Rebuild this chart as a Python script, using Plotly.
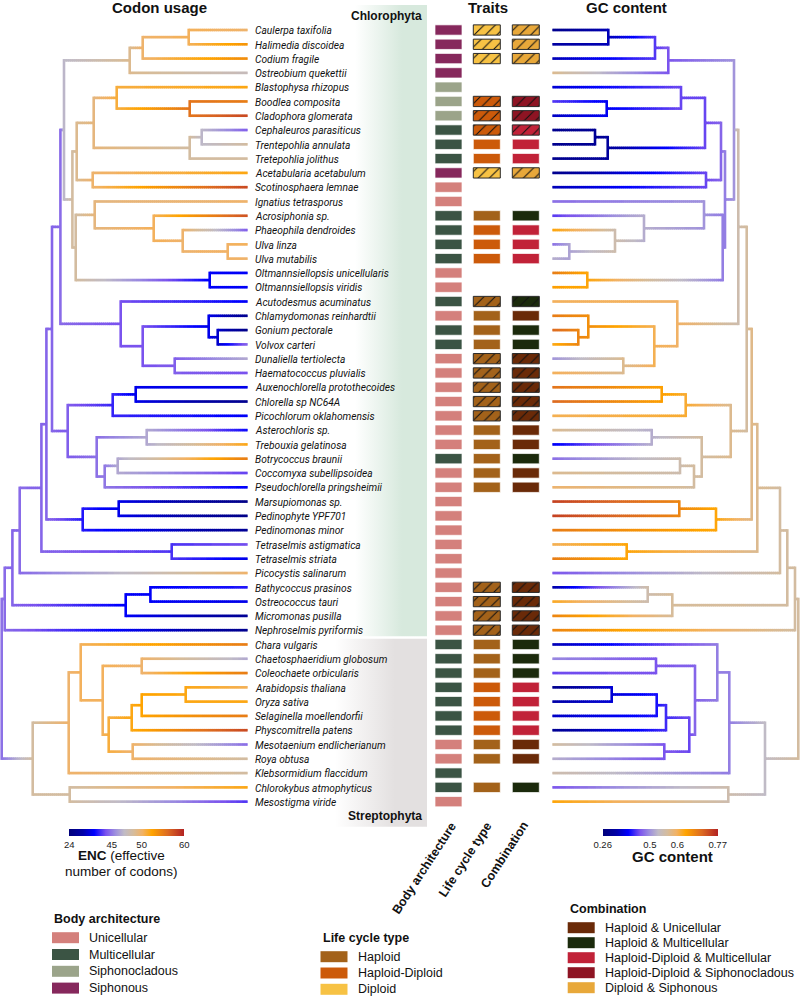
import numpy as np
import plotly.graph_objects as go
from plotly.colors import sample_colorscale

W, H = 800, 997

# ---------------- data ----------------
species = [
    "Caulerpa taxifolia", "Halimedia discoidea", "Codium fragile", "Ostreobium quekettii",
    "Blastophysa rhizopus", "Boodlea composita", "Cladophora glomerata", "Cephaleuros parasiticus",
    "Trentepohlia annulata", "Tretepohlia jolithus", "Acetabularia acetabulum", "Scotinosphaera lemnae",
    "Ignatius tetrasporus", "Acrosiphonia sp.", "Phaeophila dendroides", "Ulva linza", "Ulva mutabilis",
    "Oltmannsiellopsis unicellularis", "Oltmannsiellopsis viridis", "Acutodesmus acuminatus",
    "Chlamydomonas reinhardtii", "Gonium pectorale", "Volvox carteri", "Dunaliella tertiolecta",
    "Haematococcus pluvialis", "Auxenochlorella protothecoides", "Chlorella sp NC64A",
    "Picochlorum oklahomensis", "Asterochloris sp.", "Trebouxia gelatinosa", "Botrycoccus braunii",
    "Coccomyxa subellipsoidea", "Pseudochlorella pringsheimii", "Marsupiomonas sp.", "Pedinophyte YPF701",
    "Pedinomonas minor", "Tetraselmis astigmatica", "Tetraselmis striata", "Picocystis salinarum",
    "Bathycoccus prasinos", "Ostreococcus tauri", "Micromonas pusilla", "Nephroselmis pyriformis",
    "Chara vulgaris", "Chaetosphaeridium globosum", "Coleochaete orbicularis", "Arabidopsis thaliana",
    "Oryza sativa", "Selaginella moellendorfii", "Physcomitrella patens", "Mesotaenium endlicherianum",
    "Roya obtusa", "Klebsormidium flaccidum", "Chlorokybus atmophyticus", "Mesostigma viride",
]

U, M, SC, S = "Unicellular", "Multicellular", "Siphonocladous", "Siphonous"
body = [S, S, S, S, SC, SC, SC, M, M, M, S, U, U, M, M, M, M, U, U, M, U, M, M,
        U, U, U, U, U, U, U, M, U, U,
        U, U, U, U, U, U, U, U, U, U,
        M, M, M, M, M, M, M, U, U, M, M, U]

Hp, HD, Dp = "Haploid", "Haploid-Diploid", "Diploid"
life = [Dp, Dp, Dp, None, None, HD, HD, HD, HD, HD, Dp, None, None, Hp, HD, HD, HD, None, None,
        Hp, Hp, Hp, Hp, Hp, Hp, Hp, Hp, Hp, Hp, Hp, Hp, Hp, Hp,
        None, None, None, None, None, None, Hp, Hp, Hp, Hp,
        Hp, Hp, Hp, HD, HD, HD, HD, Hp, Hp, None, Hp, None]

HU, HM, HDM, HDS, DS = ("Haploid & Unicellular", "Haploid & Multicellular", "Haploid-Diploid & Multicellular",
                        "Haploid-Diploid & Siphonocladous", "Diploid & Siphonous")
combination = [DS, DS, DS, None, None, HDS, HDS, HDM, HDM, HDM, DS, None, None, HM, HDM, HDM, HDM, None, None,
               HM, HU, HM, HM, HU, HU, HU, HU, HU, HU, HU, HM, HU, HU,
               None, None, None, None, None, None, HU, HU, HU, HU,
               HM, HM, HM, HDM, HDM, HDM, HDM, HU, HU, None, HM, None]

# traits marked as inferred (hatched tiles)
inferred = [1, 1, 1, 0, 0, 1, 1, 1, 0, 0, 1, 0, 0, 0, 0, 0, 0, 0, 0, 1, 0, 0, 0,
            1, 1, 1, 1, 1, 0, 0, 0, 0, 0, 0, 0, 0, 0, 0, 0, 1, 1, 1, 1,
            0, 0, 0, 0, 0, 0, 0, 0, 0, 0, 0, 0]

# effective number of codons per species (tips of left tree)
enc_tip = [50, 53.5, 54, 47.5, 52, 55, 58, 43, 48.5, 48.5, 52, 58, 50, 57.5, 43, 50.5, 50,
           36, 36, 36, 27, 26, 44, 46.5, 42, 35, 27, 36, 37, 52, 55, 41, 36,
           26, 26, 28, 42, 35, 50, 38, 35, 28, 27,
           55, 46.5, 55, 50.5, 52, 55, 58, 44, 48.5, 48.5, 52, 40]

# GC content per species (tips of right tree)
gc_tip = [0.29, 0.32, 0.34, 0.57, 0.36, 0.43, 0.35, 0.29, 0.29, 0.29, 0.29, 0.34, 0.47, 0.43, 0.63,
          0.47, 0.52, 0.68, 0.64, 0.60, 0.68, 0.70, 0.62, 0.50, 0.60, 0.69, 0.70, 0.60, 0.57, 0.38,
          0.47, 0.57, 0.59, 0.74, 0.74, 0.68, 0.60, 0.68, 0.45, 0.33, 0.62, 0.67, 0.67,
          0.34, 0.49, 0.44, 0.29, 0.33, 0.35, 0.30, 0.56, 0.52, 0.55, 0.45, 0.63]

LEAF_DEPTH = 246
# codon-usage dendrogram: (node, child, child, depth from root, reconstructed ENC)
enc_tree = [
    ("A", 0, 1, 187, 50.5), ("B", "A", 2, 141, 50), ("C", "B", 3, 128, 49),
    ("D", 5, 6, 188, 55.5), ("E", 4, "D", 115, 51), ("F", 7, 8, 200, 47), ("G", "F", 9, 188, 48.5),
    ("H", "E", "G", 92, 49.5), ("I", 10, 11, 91, 50), ("J", "H", "I", 75, 49),
    ("K", 15, 16, 226, 50.3), ("L", 14, "K", 181, 50), ("M", 13, "L", 152, 50.5), ("N", 12, "M", 93, 49.5),
    ("P", 17, 18, 208, 36), ("Q", "N", "P", 74, 48.5), ("O", "J", "Q", 70.7, 48.5), ("R", "C", "O", 62.3, 47),
    ("T1", 21, 22, 216, 33), ("T2", 20, "T1", 207, 35), ("T3", 23, 24, 173, 43), ("T4", "T2", "T3", 141, 42),
    ("T5", 19, "T4", 119, 42), ("Uu", "R", "T5", 58.7, 44),
    ("V1", 25, 26, 134, 35), ("V2", "V1", 27, 111, 39), ("W1", 28, 29, 145, 46.5), ("W2", 30, 31, 116, 46.5),
    ("W3", "W2", 32, 103, 45), ("W4", "W1", "W3", 95, 44.5), ("W5", "V2", "W4", 66, 43), ("X", "Uu", "W5", 50.3, 43.5),
    ("Y1", 33, 34, 117, 35), ("Y2", "Y1", 35, 81, 38), ("Z", "X", "Y2", 44.7, 43.5),
    ("AA", 36, 37, 170, 40), ("AB", "Z", "AA", 39.7, 43.5), ("AC", "AB", 38, 18, 44),
    ("AD", 39, 40, 148.7, 36), ("AE", "AD", 41, 124, 36), ("AF", "AC", "AE", 10.7, 43.5), ("AG", "AF", 42, 3, 44),
    ("S1", 44, 45, 140, 50), ("S2", 46, 47, 184, 52), ("S3", "S2", 48, 140, 52.5), ("S4", "S3", 49, 130, 52),
    ("S5", 50, 51, 131, 50), ("S6", "S4", "S5", 107, 51), ("S7", "S1", "S6", 101, 50.5), ("S8", 43, "S7", 79, 50.5),
    ("S9", "S8", 52, 67, 50), ("S10", 53, 54, 68, 48.5), ("S11", "S9", "S10", 31, 48.5),
    ("ROOT", "AG", "S11", 0, 44.5),
]

# GC-content dendrogram: (node, child, child, depth from root, reconstructed GC)
gc_tree = [
    ("a1", 0, 1, 190, 0.34), ("a2", "a1", 2, 143.3, 0.43), ("a3", "a2", 3, 130, 0.45),
    ("b1", 5, 6, 191.6, 0.38), ("b2", 4, "b1", 117.3, 0.44), ("c1", 7, 8, 203.3, 0.30), ("c2", "c1", 9, 190.6, 0.31),
    ("bc", "b2", "c2", 93.3, 0.44), ("d1", 10, 11, 92.3, 0.44), ("bcd", "bc", "d1", 77.3, 0.46),
    ("e1", 15, 16, 229, 0.51), ("e2", 14, "e1", 183.3, 0.55), ("e3", 13, "e2", 154.3, 0.52), ("e4", 12, "e3", 94.3, 0.50),
    ("f1", 17, 18, 211, 0.63), ("ef", "e4", "f1", 75.6, 0.48), ("bcdef", "bcd", "ef", 73.3, 0.48),
    ("atop", "a3", "bcdef", 64.3, 0.50),
    ("g1", 21, 22, 220, 0.67), ("g2", 20, "g1", 210, 0.66), ("g3", 23, 24, 175, 0.57), ("g4", "g2", "g3", 144, 0.60),
    ("g5", 19, "g4", 121, 0.595), ("atop2", "atop", "g5", 60, 0.55),
    ("h1", 25, 26, 136.6, 0.64), ("h2", "h1", 27, 112.6, 0.615), ("h3", 28, 29, 146.6, 0.52), ("h4", 30, 31, 118.3, 0.55),
    ("h5", "h4", 32, 104.3, 0.56), ("h6", "h3", "h5", 96.6, 0.56), ("h7", "h2", "h6", 67.6, 0.57),
    ("n1", "atop2", "h7", 51.6, 0.56), ("i1", 33, 34, 119, 0.67), ("i2", "i1", 35, 82.3, 0.63),
    ("n2", "n1", "i2", 46.6, 0.575), ("j1", 36, 37, 171.6, 0.63), ("n3", "n2", "j1", 41, 0.57),
    ("n4", "n3", 38, 18.3, 0.56), ("k1", 39, 40, 150.6, 0.55), ("k2", "k1", 41, 126, 0.565),
    ("n5", "n4", "k2", 11, 0.56), ("n6", "n5", 42, 3.3, 0.56),
    ("m1", 44, 45, 142.3, 0.45), ("m2", 46, 47, 186.6, 0.36), ("m3", "m2", 48, 141.6, 0.40), ("m4", "m3", 49, 132.3, 0.42),
    ("m5", 50, 51, 134, 0.45), ("m6", "m4", "m5", 109, 0.44), ("m7", "m1", "m6", 103.3, 0.46), ("m8", 43, "m7", 81, 0.48),
    ("m9", "m8", 52, 69, 0.48), ("m10", 53, 54, 70, 0.55), ("m11", "m9", "m10", 33.3, 0.53),
    ("ROOT", "n6", "m11", 0, 0.56),
]

enc_ticks = [24, 45, 50, 60]
gc_ticks = [0.26, 0.5, 0.6, 0.77]

body_colors = {U: "#d4807c", M: "#3b5444", SC: "#9ba48a", S: "#86285c"}
life_colors = {Hp: "#a3621a", HD: "#cc5a0a", Dp: "#f7c244"}
combo_colors = {HU: "#6a2a08", HM: "#1b2a0c", HDM: "#c12238", HDS: "#8e1423", DS: "#e8a83a"}

# ---------------- styling ----------------
CSCALE = [[0, "#00007a"], [0.12, "#0000a8"], [0.22, "#0000ff"], [0.32, "#7a52ee"], [0.40, "#9c8ddf"],
          [0.48, "#c0bbc6"], [0.56, "#d5bc9d"], [0.64, "#f2b264"], [0.72, "#ffa400"], [0.86, "#dc6a22"],
          [1, "#b22222"]]
ENC_POS = [0, 0.37, 0.63, 1.0]
GC_POS = [0, 0.41, 0.65, 1.0]
FONT = "Liberation Sans, Arial, sans-serif"
LABEL_FONT = "Roboto, Liberation Sans, Arial, sans-serif"
LW = 2.6
ROW_PX = 14.29
Y0_PX = 30.0
NB = 120


def t_enc(v):
    return float(np.interp(v, enc_ticks, ENC_POS))


def t_gc(v):
    return float(np.interp(v, gc_ticks, GC_POS))


bin_colors = sample_colorscale(CSCALE, [(b + 0.5) / NB for b in range(NB)])


def tree_segments(nodes, tips, tfun):
    segs = {}

    def add(t, xs, ys):
        b = min(NB - 1, max(0, int(t * NB)))
        sx, sy = segs.setdefault(b, ([], []))
        sx.extend(xs + [None])
        sy.extend(ys + [None])

    info = {i: (LEAF_DEPTH, i, tfun(v)) for i, v in enumerate(tips)}
    for name, a, b, d, v in nodes:
        info[name] = (d, (info[a][1] + info[b][1]) / 2.0, tfun(v))
    ext = (LW / 2) / ROW_PX
    for name, a, b, d, v in nodes:
        dn, yn, tn = info[name]
        for c in (a, b):
            dc, yc, tc = info[c]
            L = dc - dn
            n = max(1, int(np.ceil(L / 2.0)))
            for k in range(n):
                x0 = dn + L * k / n
                x1 = dn + L * (k + 1) / n + (0.7 if k < n - 1 else 0)
                tm = tn + (tc - tn) * (k + 0.5) / n
                add(tm, [x0, x1], [yc, yc])
        ya, yb = sorted([info[a][1], info[b][1]])
        add(tn, [dn, dn], [ya - ext, yb + ext])
    return segs


fig = go.Figure()

# clade shading
for xs, ys, col in [((355, 427), (-1.75, 42.42), "215,233,221"), ((335, 427), (42.6, 55.75), "227,224,224")]:
    fig.add_trace(go.Scatter(
        x=[xs[0], xs[1], xs[1], xs[0], xs[0]], y=[ys[0], ys[0], ys[1], ys[1], ys[0]],
        mode="lines", line=dict(width=0), fill="toself", hoverinfo="skip", showlegend=False,
        fillcolor="rgb(%s)" % col,
        fillgradient=dict(type="horizontal",
                          colorscale=[[0, "rgba(%s,0)" % col], [0.65, "rgba(%s,1)" % col], [1, "rgba(%s,1)" % col]]),
        xaxis="x", yaxis="y"))

# trait tiles (one bar trace per column and category)
rows = list(range(len(species)))
for col_x, values, cmap, can_hatch in [(435, body, body_colors, False), (473.3, life, life_colors, True),
                                       (512.3, combination, combo_colors, True)]:
    for cat, col in cmap.items():
        idx = [i for i in rows if values[i] == cat]
        if not idx:
            continue
        hatched = [can_hatch and bool(inferred[i]) for i in idx]
        fig.add_trace(go.Bar(
            orientation="h", y=idx, x=[27] * len(idx), base=col_x, width=0.72,
            marker=dict(color=col,
                        line=dict(color=["#2a2a2a" if h else "rgba(255,255,255,0.7)" for h in hatched], width=1),
                        pattern=dict(shape=["/" if h else "" for h in hatched], fillmode="overlay",
                                     bgcolor=col, fgcolor="#111111", fgopacity=1, size=8, solidity=0.13)),
            hoverinfo="skip", showlegend=False, xaxis="x", yaxis="y"))

# trees
for nodes, tips, tfun, ax in [(enc_tree, enc_tip, t_enc, "x2"), (gc_tree, gc_tip, t_gc, "x3")]:
    segs = tree_segments(nodes, tips, tfun)
    for b in sorted(segs):
        sx, sy = segs[b]
        fig.add_trace(go.Scatter(x=sx, y=sy, mode="lines", line=dict(color=bin_colors[b], width=LW),
                                 hoverinfo="skip", showlegend=False, xaxis=ax, yaxis="y"))

# colour bars
for ticks, pos, cx in [(enc_ticks, ENC_POS, 126.7), (gc_ticks, GC_POS, 660.2)]:
    fig.add_trace(go.Scatter(
        x=[-50, -50], y=[-50, -50], mode="markers", hoverinfo="skip", showlegend=False,
        marker=dict(size=1, color=[0, 1], cmin=0, cmax=1, colorscale=CSCALE, showscale=True,
                    colorbar=dict(orientation="h", x=cx / W, xanchor="center", y=1 - 828.5 / H, yanchor="top",
                                  len=115 / W, lenmode="fraction", thickness=6.5, outlinewidth=0,
                                  xpad=0, ypad=0, tickvals=pos, ticktext=[str(t) for t in ticks],
                                  ticks="", tickfont=dict(size=9.5, family=FONT, color="#222"))),
        xaxis="x", yaxis="y"))

ann = []
for i, name in enumerate(species):
    ann.append(dict(x=253, y=i + 0.05, xref="x", yref="y", text="<i>%s</i>" % name, showarrow=False,
                    xanchor="left", yanchor="middle", font=dict(size=10.2, family=LABEL_FONT, color="#111")))


def px_y(py):
    return 1 - py / H


def txt(x, py, s, size, bold=False, anchor="center", angle=0, yanchor="middle"):
    ann.append(dict(x=x, y=px_y(py), xref="x", yref="paper", text=("<b>%s</b>" % s) if bold else s,
                    showarrow=False, xanchor=anchor, yanchor=yanchor, textangle=angle,
                    font=dict(size=size, family=FONT, color="#111")))


txt(159, 8, "Codon usage", 15, True)
txt(488, 8, "Traits", 15, True)
txt(626, 8, "GC content", 15, True)
txt(386, 16, "Chlorophyta", 12, True)
txt(385, 816, "Streptophyta", 12, True)
txt(121, 855.5, "<b>ENC</b> (effective", 13.5)
txt(121, 871, "number of codons)", 13.5)
txt(672, 856.7, "GC content", 15, True)
for xr, s in [(462, "Body architecture"), (497, "Life cycle type"), (534, "Combination")]:
    txt(xr, 817, s, 12.5, True, anchor="right", angle=-57, yanchor="top")

shapes = []


def legend(title, items, x0, ty, y_first, step):
    txt(x0, ty, title, 12.5, True, anchor="left")
    for k, (lab, col) in enumerate(items):
        yc = y_first + k * step
        shapes.append(dict(type="rect", xref="x", yref="paper", x0=x0, x1=x0 + 27,
                           y0=px_y(yc - 5.5), y1=px_y(yc + 5.5), fillcolor=col, line=dict(width=0)))
        txt(x0 + 35, yc, lab, 12.5, anchor="left")


legend("Body architecture", list(body_colors.items()), 52, 919, 937.7, 16.8)
legend("Life cycle type", list(life_colors.items()), 320.5, 938, 956.7, 16.3)
legend("Combination", list(combo_colors.items()), 567.7, 909.3, 927.7, 15.0)

axis_off = dict(visible=False, showgrid=False, zeroline=False, fixedrange=True)
fig.update_layout(
    width=W, height=H, margin=dict(l=0, r=0, t=0, b=0), autosize=False,
    paper_bgcolor="white", plot_bgcolor="white", barmode="overlay", showlegend=False,
    xaxis=dict(range=[0, W], domain=[0, 1], **axis_off),
    xaxis2=dict(range=[-1.7, W - 1.7], domain=[0, 1], overlaying="x", **axis_off),
    xaxis3=dict(range=[798.3, 798.3 - W], domain=[0, 1], overlaying="x", **axis_off),
    yaxis=dict(range=[(H - Y0_PX) / ROW_PX, -Y0_PX / ROW_PX], domain=[0, 1], **axis_off),
    annotations=ann, shapes=shapes,
)

fig.write_html("out.html", config={"displayModeBar": False},
               post_script="document.body.style.margin='0';document.body.style.padding='0';"
                           "document.body.style.overflow='hidden';")
